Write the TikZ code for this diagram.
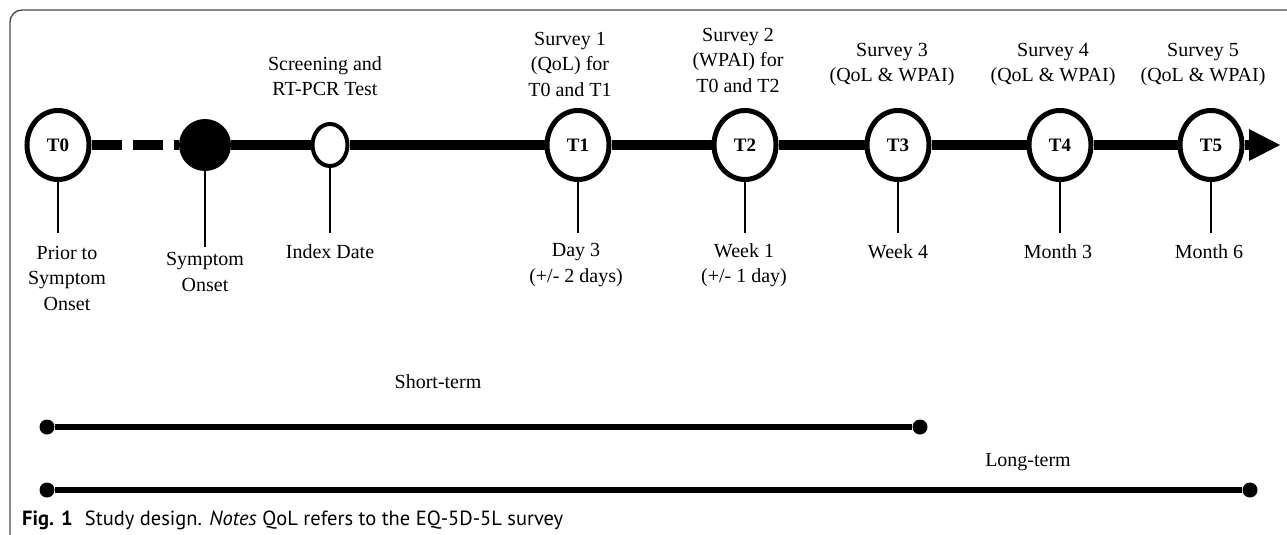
\documentclass[tikz,border=0pt]{standalone}
\usepackage{fontspec}
\setmainfont{Liberation Serif}
\newfontfamily\capfont{PT Sans}
\usetikzlibrary{shapes.geometric}

\begin{document}
\begin{tikzpicture}[x=1pt,y=1pt]
\tikzstyle{every node}+=[inner sep=0pt]
\tikzstyle{tpoint}=[ellipse,draw=black,line width=5pt,fill=white,minimum width=62pt,minimum height=69pt,font=\fontsize{19}{19}\selectfont\bfseries]
\tikzstyle{lbl}=[align=center,font=\fontsize{20}{25.5}\selectfont]
\tikzstyle{timeline}=[black,line width=10pt]
\tikzstyle{tickline}=[black,line width=1.4pt]
\tikzstyle{period}=[black,line width=5.5pt]
\tikzstyle{enddot}=[circle,fill=black,minimum size=15pt]
\useasboundingbox (0,0) rectangle (1287,-535);
\draw [black!70,line width=1.4pt,rounded corners=12pt] (10,-535) -- (10,-10) -- (1287,-10);
\node [tpoint] (T0) at (58,-145) {T0};
\node [circle,fill=black,minimum size=52pt] (SO) at (205,-145) {};
\node [ellipse,draw=black,line width=4pt,fill=white,minimum width=35pt,minimum height=42pt] (ID) at (330,-145) {};
\node [tpoint] (T1) at (578,-145) {T1};
\node [tpoint] (T2) at (745,-145) {T2};
\node [tpoint] (T3) at (898,-145) {T3};
\node [tpoint] (T4) at (1060,-145) {T4};
\node [tpoint] (T5) at (1211,-145) {T5};
\coordinate (head) at (1249,-145);
\coordinate (tk) at (0,-233);
\coordinate (tkso) at (0,-247);
\draw [timeline,dash pattern=on 30pt off 11pt] (T0) -- (SO);
\draw [timeline] (SO) -- (ID) -- (T1) -- (T2) -- (T3) -- (T4) -- (T5) -- (head);
\fill [black] (1280,-145) -- (1249,-129) -- (1249,-161) -- cycle;
\draw [tickline] (T0) -- (T0 |- tk);
\draw [tickline] (SO) -- (SO |- tkso);
\draw [tickline] (ID) -- (ID |- tk);
\draw [tickline] (T1) -- (T1 |- tk);
\draw [tickline] (T2) -- (T2 |- tk);
\draw [tickline] (T3) -- (T3 |- tk);
\draw [tickline] (T4) -- (T4 |- tk);
\draw [tickline] (T5) -- (T5 |- tk);
\node [lbl] (scr) at (325,-76) {Screening and\\RT-PCR Test};
\node [lbl] (s1) at (570,-64) {Survey 1\\(QoL) for\\T0 and T1};
\node [lbl] (s2) at (738,-60) {Survey 2\\(WPAI) for\\T0 and T2};
\node [lbl] (s3) at (892,-64.5) {Survey 3\\(QoL \& WPAI)};
\node [lbl] (s4) at (1053,-64.5) {Survey 4\\(QoL \& WPAI)};
\node [lbl] (s5) at (1203,-64.5) {Survey 5\\(QoL \& WPAI)};
\node [lbl] (prior) at (67,-278) {Prior to\\Symptom\\Onset};
\node [lbl] (onset) at (205,-272) {Symptom\\Onset};
\node [lbl] (index) at (330,-252) {Index Date};
\node [lbl] (day3) at (576,-265) {Day 3\\(+/- 2 days)};
\node [lbl] (week1) at (744,-265) {Week 1\\(+/- 1 day)};
\node [lbl] (week4) at (898,-252) {Week 4};
\node [lbl] (month3) at (1058,-252) {Month 3};
\node [lbl] (month6) at (1209,-252) {Month 6};
\node [enddot] (st0) at (47,-427) {};
\node [enddot] (st1) at (920,-427) {};
\draw [period] (st0) -- (st1);
\node [lbl] (short) at (438,-382) {Short-term};
\node [enddot] (lt0) at (47,-490) {};
\node [enddot] (lt1) at (1250,-490) {};
\draw [period] (lt0) -- (lt1);
\node [lbl] (long) at (1028,-462) {Long-term};
\node [anchor=west,font=\capfont\fontsize{20.5}{20.5}\selectfont] (cap) at (22,-520) {\textbf{Fig. 1}\hspace{0.6em}Study design. \textit{Notes} QoL refers to the EQ-5D-5L survey};
\end{tikzpicture}
\end{document}
